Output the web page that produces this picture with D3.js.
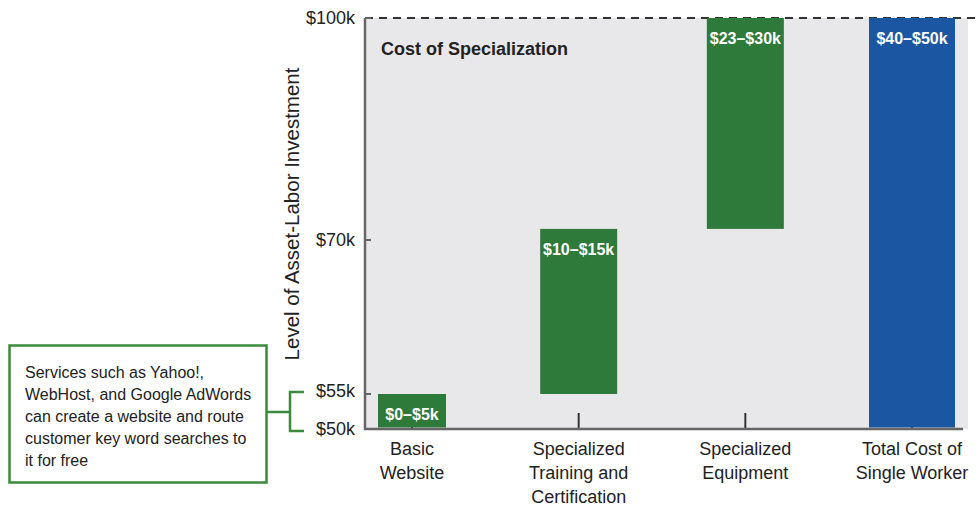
<!DOCTYPE html>
<html>
<head>
<meta charset="utf-8">
<script src="https://cdnjs.cloudflare.com/ajax/libs/d3/7.8.5/d3.min.js"></script>
<style>
  html, body { margin: 0; padding: 0; background: #fff; }
  svg { display: block; font-family: "Liberation Sans", Arial, Helvetica, sans-serif; }
</style>
</head>
<body>
<svg id="chart" width="976" height="506"></svg>
<script>
// ---- data ----
const categories = ["Basic Website", "Specialized Training and Certification", "Specialized Equipment", "Total Cost of Single Worker"];
const categoryLines = [["Basic", "Website"], ["Specialized", "Training and", "Certification"], ["Specialized", "Equipment"], ["Total Cost of", "Single Worker"]];
const barLow = [50, 55, 71.5, 50];
const barHigh = [55, 71.5, 100, 100];
const barLabels = ["$0–$5k", "$10–$15k", "$23–$30k", "$40–$50k"];
const barKinds = ["part", "part", "part", "total"];
const tickValues = [50, 55, 70, 100];
const tickLabels = ["$50k", "$55k", "$70k", "$100k"];
const chartTitle = "Cost of Specialization";
const yTitle = "Level of Asset-Labor Investment";
const noteLines = ["Services such as Yahoo!,", "WebHost, and Google AdWords", "can create a website and route", "customer key word searches to", "it for free"];

// ---- style ----
const barWidths = [68, 77, 77, 86];
const colors = { part: "#2e7a3a", total: "#1b56a2" };
const axisColor = "#666";
const textColor = "#222";

const svg = d3.select("#chart");
const plot = { left: 365, right: 968, top: 18, bottom: 429 };

// schematic (piecewise) value scale, as in the reference
const y = d3.scaleLinear().domain([50, 55, 70, 100]).range([429, 394, 240, 18]);
const x = d3.scalePoint().domain(categories).range([412, 912]);

// background panel
svg.append("rect")
  .attr("x", plot.left).attr("y", plot.top)
  .attr("width", plot.right - plot.left).attr("height", plot.bottom - plot.top)
  .attr("fill", "#e8e8ea");

// top dashed line
svg.append("line")
  .attr("x1", plot.left).attr("x2", 976)
  .attr("y1", y(100)).attr("y2", y(100))
  .attr("stroke", "#333").attr("stroke-width", 2).attr("stroke-dasharray", "8,6");

// x ticks (upward, inside panel)
svg.append("g").selectAll("line").data(categories).join("line")
  .attr("x1", d => x(d)).attr("x2", d => x(d))
  .attr("y1", plot.bottom - 16).attr("y2", plot.bottom)
  .attr("stroke", "#333").attr("stroke-width", 2);

// bars
const bars = categories.map((c, i) => ({ c, i, lo: barLow[i], hi: barHigh[i], label: barLabels[i], kind: barKinds[i] }));
svg.append("g").selectAll("rect").data(bars).join("rect")
  .attr("x", d => x(d.c) - barWidths[d.i] / 2)
  .attr("width", d => barWidths[d.i])
  .attr("y", d => y(d.hi))
  .attr("height", d => Math.min(y(d.lo), plot.bottom - 1.5) - y(d.hi))
  .attr("fill", d => colors[d.kind]);

svg.append("g").selectAll("text").data(bars).join("text")
  .attr("x", d => x(d.c))
  .attr("y", d => Math.min(y(d.hi) + 26, y(d.lo) - 9))
  .attr("text-anchor", "middle")
  .attr("fill", "#fff")
  .attr("font-weight", "bold")
  .attr("font-size", 16)
  .text(d => d.label);

// axes lines
svg.append("line")
  .attr("x1", plot.left).attr("x2", plot.left)
  .attr("y1", plot.top).attr("y2", plot.bottom + 1)
  .attr("stroke", axisColor).attr("stroke-width", 2.5);
svg.append("line")
  .attr("x1", plot.left - 1).attr("x2", 963)
  .attr("y1", plot.bottom).attr("y2", plot.bottom)
  .attr("stroke", axisColor).attr("stroke-width", 2.5);

// y ticks + labels
const yt = svg.append("g");
yt.selectAll("line").data(tickValues).join("line")
  .attr("x1", plot.left).attr("x2", plot.left + 6)
  .attr("y1", d => y(d)).attr("y2", d => y(d))
  .attr("stroke", axisColor).attr("stroke-width", 2);
yt.selectAll("text").data(tickValues).join("text")
  .attr("x", 355)
  .attr("y", (d, i) => y(d) + 6 - (d === 55 ? 3 : 0))
  .attr("text-anchor", "end")
  .attr("font-size", 18)
  .attr("fill", textColor)
  .text((d, i) => tickLabels[i]);

// category labels
const xl = svg.append("g").selectAll("text").data(categories).join("text")
  .attr("text-anchor", "middle")
  .attr("font-size", 18)
  .attr("fill", textColor);
xl.each(function(d, i) {
  d3.select(this).selectAll("tspan").data(categoryLines[i]).join("tspan")
    .attr("x", x(d))
    .attr("y", (l, j) => 455 + j * 24)
    .text(l => l);
});

// chart title
svg.append("text")
  .attr("x", 381).attr("y", 55)
  .attr("font-size", 18).attr("font-weight", "bold")
  .attr("fill", textColor)
  .text(chartTitle);

// y title
svg.append("text")
  .attr("transform", "translate(299,214) rotate(-90)")
  .attr("text-anchor", "middle")
  .attr("font-size", 20.5)
  .attr("fill", textColor)
  .text(yTitle);

// annotation box
const green = "#3b8a3b";
svg.append("rect")
  .attr("x", 9.5).attr("y", 345.5).attr("width", 257).attr("height", 137)
  .attr("fill", "#fff").attr("stroke", green).attr("stroke-width", 2.5);
svg.append("text")
  .attr("font-size", 16).attr("fill", textColor)
  .selectAll("tspan").data(noteLines).join("tspan")
  .attr("x", 25).attr("y", (d, i) => 378 + i * 22)
  .text(d => d);

// bracket connecting note to $50k–$55k range
const br = d3.path();
br.moveTo(267, 412); br.lineTo(290, 412);
br.moveTo(304, y(55) - 2); br.lineTo(290, y(55) - 2); br.lineTo(290, y(50) + 2); br.lineTo(304, y(50) + 2);
svg.append("path").attr("d", br.toString())
  .attr("fill", "none").attr("stroke", green).attr("stroke-width", 2.5);
</script>
</body>
</html>
